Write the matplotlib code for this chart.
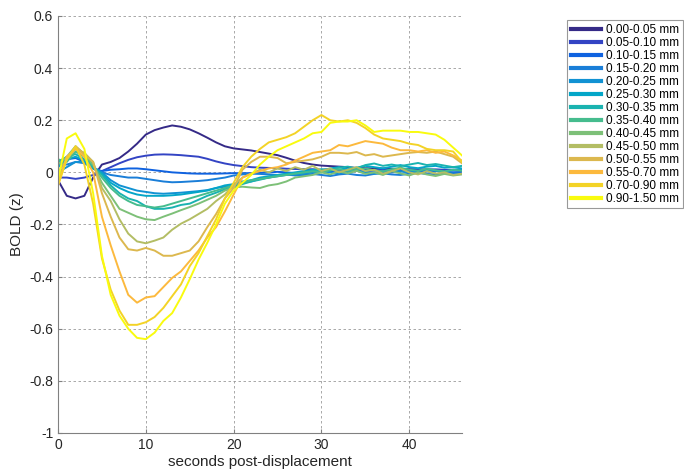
import matplotlib
matplotlib.use("Agg")
import matplotlib.pyplot as plt

plt.rcParams['font.family'] = ['Liberation Sans', 'DejaVu Sans']

# ---------- data ----------
seconds = list(range(47))

labels = ["0.00-0.05 mm", "0.05-0.10 mm", "0.10-0.15 mm", "0.15-0.20 mm",
          "0.20-0.25 mm", "0.25-0.30 mm", "0.30-0.35 mm", "0.35-0.40 mm",
          "0.40-0.45 mm", "0.45-0.50 mm", "0.50-0.55 mm", "0.55-0.70 mm",
          "0.70-0.90 mm", "0.90-1.50 mm"]

colors = ["#352a87", "#3344c4", "#0f62e0", "#1a7ed8", "#1192d3", "#03a6c8",
          "#1ab3b0", "#45bc8e", "#7dc078", "#b3bd64", "#dcb84e", "#fcb93d",
          "#f3d326", "#f9fb0e"]

d000 = [-0.03, -0.09, -0.1, -0.09, -0.02, 0.03, 0.04, 0.055, 0.08, 0.11,
        0.145, 0.162, 0.172, 0.18, 0.175, 0.165, 0.15, 0.133, 0.115, 0.1,
        0.092, 0.088, 0.084, 0.078, 0.072, 0.066, 0.056, 0.045, 0.036, 0.03,
        0.026, 0.024, 0.022, 0.02, 0.017, 0.016, 0.015, 0.015, 0.014, 0.013,
        0.012, 0.012, 0.011, 0.01, 0.01, 0.008, 0.008]
d005 = [-0.02, -0.02, -0.025, -0.02, -0.01, 0.005, 0.02, 0.035, 0.048, 0.058,
        0.064, 0.068, 0.069, 0.068, 0.066, 0.063, 0.06, 0.052, 0.042, 0.034,
        0.028, 0.024, 0.02, 0.018, 0.017, 0.016, 0.014, 0.013, 0.012, 0.012,
        0.01, 0.011, 0.009, 0.01, 0.012, 0.01, 0.008, 0.01, 0.011, 0.009,
        0.01, 0.008, 0.01, 0.011, 0.009, 0.01, 0.01]
d010 = [0.02, 0.05, 0.055, 0.04, 0.015, 0.005, 0.01, 0.012, 0.015, 0.015,
        0.012, 0.008, 0.004, 0.0, -0.002, -0.004, -0.005, -0.005, -0.005, -0.004,
        -0.003, -0.003, -0.003, -0.002, 0.0, 0.002, 0.0, -0.003, 0.0, 0.003,
        0.005, 0.002, 0.0, 0.004, 0.006, 0.003, 0.0, -0.003, 0.0, 0.004,
        0.002, 0.0, 0.003, 0.005, 0.002, 0.0, 0.002]
d015 = [0.03, 0.03, 0.04, 0.035, 0.015, 0.0, -0.01, -0.015, -0.02, -0.02,
        -0.025, -0.03, -0.035, -0.038, -0.037, -0.035, -0.033, -0.03, -0.025, -0.02,
        -0.012, -0.008, -0.005, -0.006, -0.008, -0.01, -0.008, -0.012, -0.01, -0.006,
        -0.01, -0.014, -0.008, -0.005, -0.01, -0.012, -0.006, -0.004, -0.008, -0.01,
        -0.005, -0.002, -0.006, -0.008, -0.004, -0.003, -0.005]
d020 = [0.0, 0.02, 0.04, 0.04, 0.02, 0.0, -0.03, -0.05, -0.06, -0.07,
        -0.075, -0.08, -0.082, -0.08, -0.078, -0.075, -0.072, -0.068, -0.06, -0.055,
        -0.05, -0.04, -0.035, -0.025, -0.02, -0.015, -0.01, -0.008, -0.005, 0.0,
        0.004, 0.0, -0.004, 0.002, 0.006, 0.0, -0.005, 0.003, 0.008, 0.004,
        0.0, 0.005, 0.01, 0.006, 0.002, 0.008, 0.01]
d025 = [0.02, 0.05, 0.06, 0.045, 0.015, -0.005, -0.04, -0.06, -0.075, -0.085,
        -0.09, -0.09, -0.09, -0.088, -0.085, -0.08, -0.075, -0.07, -0.06, -0.05,
        -0.045, -0.035, -0.03, -0.02, -0.015, -0.01, -0.005, 0.0, 0.005, 0.01,
        0.008, 0.015, 0.02, 0.012, 0.018, 0.025, 0.02, 0.015, 0.022, 0.028,
        0.02, 0.016, 0.022, 0.025, 0.018, 0.02, 0.015]
d030 = [0.04, 0.06, 0.07, 0.05, 0.02, -0.01, -0.05, -0.08, -0.1, -0.11,
        -0.13, -0.14, -0.14, -0.135, -0.125, -0.12, -0.105, -0.09, -0.078, -0.065,
        -0.055, -0.045, -0.035, -0.028, -0.02, -0.012, -0.008, -0.004, 0.0, 0.006,
        0.012, 0.008, 0.018, 0.022, 0.015, 0.028, 0.034, 0.025, 0.03, 0.024,
        0.03, 0.036, 0.028, 0.032, 0.026, 0.02, 0.025]
d035 = [0.05, 0.04, 0.08, 0.06, 0.025, -0.02, -0.06, -0.09, -0.11, -0.125,
        -0.13, -0.135, -0.13, -0.12, -0.11, -0.1, -0.09, -0.08, -0.07, -0.06,
        -0.05, -0.04, -0.03, -0.025, -0.02, -0.015, -0.01, -0.005, 0.0, 0.004,
        0.0, 0.008, 0.012, 0.006, 0.01, 0.015, 0.008, 0.004, 0.012, 0.018,
        0.01, 0.006, 0.014, 0.008, 0.004, 0.01, 0.006]
d040 = [0.03, 0.06, 0.1, 0.07, 0.03, -0.04, -0.09, -0.14, -0.155, -0.17,
        -0.18, -0.183, -0.17, -0.158, -0.145, -0.133, -0.12, -0.105, -0.09, -0.07,
        -0.058, -0.055, -0.058, -0.06, -0.05, -0.045, -0.035, -0.02, -0.015, -0.01,
        0.0, -0.008, 0.004, -0.004, 0.006, -0.006, 0.0, -0.01, 0.004, -0.004,
        -0.012, 0.0, -0.008, -0.014, -0.006, -0.012, -0.008]
d045 = [0.0, 0.05, 0.09, 0.075, 0.04, -0.06, -0.11, -0.18, -0.235, -0.265,
        -0.272, -0.262, -0.25, -0.22, -0.197, -0.18, -0.16, -0.14, -0.11, -0.085,
        -0.05, -0.02, -0.005, 0.01, 0.0, 0.015, 0.005, 0.02, 0.01, 0.025,
        0.005, 0.015, 0.0, 0.01, 0.02, 0.005, 0.01, -0.005, 0.005, 0.015,
        0.0, -0.008, 0.005, -0.005, 0.0, -0.01, -0.005]
d050 = [-0.03, 0.05, 0.1, 0.07, 0.04, -0.08, -0.17, -0.25, -0.295, -0.3,
        -0.29, -0.3, -0.32, -0.32, -0.31, -0.3, -0.265, -0.21, -0.16, -0.1,
        -0.06, 0.01, 0.04, 0.06, 0.06, 0.055, 0.035, 0.04, 0.045, 0.05,
        0.06, 0.075, 0.075, 0.072, 0.078, 0.065, 0.07, 0.06, 0.065, 0.07,
        0.075, 0.078, 0.075, 0.08, 0.07, 0.06, 0.035]
d055 = [-0.05, 0.06, 0.09, 0.06, 0.0, -0.17, -0.28, -0.38, -0.47, -0.5,
        -0.48, -0.475, -0.44, -0.405, -0.38, -0.34, -0.3, -0.25, -0.21, -0.15,
        -0.085, -0.02, -0.005, 0.005, 0.015, 0.02, 0.03, 0.045, 0.06, 0.075,
        0.08, 0.085, 0.105, 0.1, 0.11, 0.12, 0.115, 0.11, 0.095, 0.085,
        0.085, 0.08, 0.085, 0.075, 0.08, 0.065, 0.045]
d070 = [-0.05, 0.05, 0.1, 0.03, -0.12, -0.33, -0.45, -0.53, -0.585, -0.585,
        -0.575, -0.555, -0.52, -0.475, -0.43, -0.36, -0.31, -0.245, -0.18, -0.1,
        -0.04, 0.02, 0.06, 0.09, 0.115, 0.125, 0.135, 0.15, 0.175, 0.2,
        0.22, 0.2, 0.195, 0.2, 0.19, 0.17, 0.145, 0.13, 0.125, 0.12,
        0.11, 0.105, 0.09, 0.085, 0.085, 0.08, 0.04]
d090 = [-0.03, 0.13, 0.15, 0.09, -0.08, -0.32, -0.47, -0.55, -0.6, -0.635,
        -0.64, -0.615, -0.57, -0.54, -0.48, -0.41, -0.335, -0.27, -0.2, -0.12,
        -0.07, -0.04, -0.01, 0.03, 0.06, 0.085, 0.1, 0.115, 0.13, 0.15,
        0.155, 0.19, 0.195, 0.195, 0.2, 0.18, 0.155, 0.16, 0.16, 0.16,
        0.155, 0.155, 0.15, 0.145, 0.125, 0.095, 0.065]

series = [d000, d005, d010, d015, d020, d025, d030, d035,
          d040, d045, d050, d055, d070, d090]

yticks = [-1, -0.8, -0.6, -0.4, -0.2, 0, 0.2, 0.4, 0.6]
ytick_labels = ["-1", "-0.8", "-0.6", "-0.4", "-0.2", "0", "0.2", "0.4", "0.6"]
xticks = [0, 10, 20, 30, 40]

# ---------- plot ----------
fig = plt.figure(figsize=(6.84, 4.69), dpi=100)
ax = fig.add_axes([0.0848, 0.0768, 0.5906, 0.8891])

for vals, col, lab in zip(series, colors, labels):
    ax.plot(seconds, vals, color=col, linewidth=1.4, label=lab)

ax.set_xlim(0, 46)
ax.set_ylim(-1, 0.6)
ax.set_xticks(xticks)
ax.set_yticks(yticks)
ax.set_yticklabels(ytick_labels)
ax.grid(True, color="#9a9a9a", linestyle=(0, (3, 3)), linewidth=0.6)
ax.set_axisbelow(True)

for side in ["top", "right"]:
    ax.spines[side].set_visible(False)
for side in ["left", "bottom"]:
    ax.spines[side].set_color("#808080")
    ax.spines[side].set_linewidth(0.8)
ax.tick_params(direction="in", length=3, color="#808080",
               labelsize=10, labelcolor="#262626")

ax.set_xlabel("seconds post-displacement", fontsize=11, color="#262626", labelpad=2)
ax.set_ylabel("BOLD (z)", fontsize=11, color="#262626", labelpad=4)

leg = fig.legend(loc="upper left", bbox_to_anchor=(0.829, 0.957),
                 fontsize=8.5, frameon=True, fancybox=False,
                 edgecolor="#808080", handlelength=2.6, handletextpad=0.4,
                 labelspacing=0.085, borderpad=0.3, borderaxespad=0)
leg.get_frame().set_linewidth(0.8)
for line in leg.get_lines():
    line.set_linewidth(3)

fig.savefig("out.png", dpi=100)
